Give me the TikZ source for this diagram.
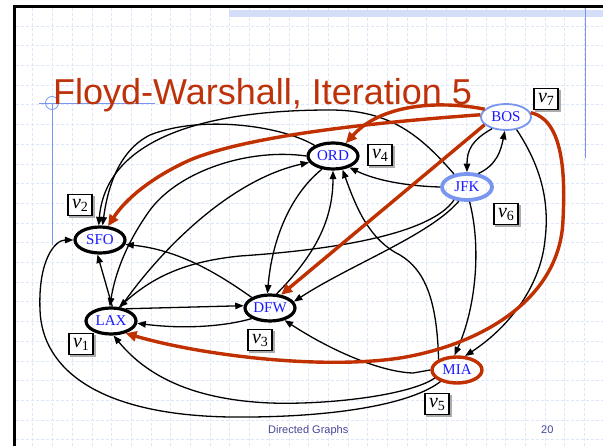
\documentclass[tikz,border=0pt]{standalone}
\usepackage{fontspec}
\setmainfont{Liberation Serif}
\newfontfamily\titlefont{Liberation Sans}
\usetikzlibrary{arrows.meta,shapes.geometric}

\definecolor{titlered}{RGB}{190,50,10}
\definecolor{edgered}{RGB}{192,48,0}
\definecolor{citytext}{RGB}{25,25,255}
\definecolor{lightblue}{RGB}{120,150,240}
\definecolor{gridblue}{RGB}{222,230,250}
\definecolor{barblue}{RGB}{212,222,248}
\definecolor{footblue}{RGB}{70,70,150}

\begin{document}
\begin{tikzpicture}[x=1pt,y=-1pt,
  city/.style={ellipse, minimum width=50pt, minimum height=26pt, inner sep=0pt,
    line width=3.2pt, font=\fontsize{15}{15}\selectfont, text=citytext},
  vbox/.style={draw, fill=white, line width=1.1pt, minimum width=24pt,
    minimum height=21pt, inner sep=0pt, font=\fontsize{20}{20}\selectfont,
    preaction={fill=gray!65, draw=gray!65, transform canvas={xshift=2pt,yshift=-2pt}}},
  blkarc/.style={line width=1.3pt, -{Triangle[length=8.5pt,width=6.5pt]}},
  redarc/.style={line width=3.4pt, draw=edgered, -{Triangle[length=11pt,width=10pt]}},
  gridline/.style={gridblue, line width=0.6pt, dash pattern=on 3pt off 2pt}
]
\useasboundingbox (0,0) rectangle (603,446);
\fill[white] (0,0) rectangle (603,446);

% slide grid
\foreach \i in {0,...,29} {\draw[gridline] ({32.7+19.7*\i},8) -- ({32.7+19.7*\i},446);}
\foreach \j in {0,...,21} {\draw[gridline] (16,{26+19.7*\j}) -- (603,{26+19.7*\j});}

% slide decorations
\fill[barblue] (229,10) rectangle (603,17);
\draw[lightblue, line width=1pt] (585,7) -- (585,158);
\draw[line width=2.6pt] (14.5,446) -- (14.5,6.5) -- (603,6.5);
\draw[lightblue, line width=0.8pt] (39,103) -- (155,103);
\draw[lightblue, line width=0.8pt] (52,103) -- (52,245);
\draw[lightblue, line width=0.8pt] (52,103) circle (6.5);

% title and footer
\node[anchor=base west, inner sep=0pt, text=titlered,
  font=\titlefont\fontsize{36}{36}\selectfont] (title) at (53,105) {Floyd-Warshall, Iteration 5};
\node[anchor=base west, inner sep=0pt, text=footblue,
  font=\titlefont\fontsize{11}{11}\selectfont] (foot) at (268,434) {Directed Graphs};
\node[anchor=base west, inner sep=0pt, text=footblue,
  font=\titlefont\fontsize{11}{11}\selectfont] (page) at (541,434) {20};

% airports
\node[city, draw=lightblue, line width=1.8pt] (BOS) at (506,117) {BOS};
\node[city, draw=lightblue, line width=3.8pt] (JFK) at (467,187) {JFK};
\node[city, draw=black] (ORD) at (333,156) {ORD};
\node[city, draw=black] (SFO) at (100,240) {SFO};
\node[city, draw=black] (LAX) at (111,321) {LAX};
\node[city, draw=black] (DFW) at (270,308) {DFW};
\node[city, draw=edgered, line width=3.4pt] (MIA) at (457,370) {MIA};

% vertex labels
\node[vbox] (v7) at (546,99) {\textit{v}\raisebox{-3pt}{\fontsize{14}{14}\selectfont 7}};
\node[vbox] (v4) at (380,155) {\textit{v}\raisebox{-3pt}{\fontsize{14}{14}\selectfont 4}};
\node[vbox] (v6) at (506,214) {\textit{v}\raisebox{-3pt}{\fontsize{14}{14}\selectfont 6}};
\node[vbox] (v2) at (80,205) {\textit{v}\raisebox{-3pt}{\fontsize{14}{14}\selectfont 2}};
\node[vbox] (v1) at (81,344) {\textit{v}\raisebox{-3pt}{\fontsize{14}{14}\selectfont 1}};
\node[vbox] (v3) at (260,340) {\textit{v}\raisebox{-3pt}{\fontsize{14}{14}\selectfont 3}};
\node[vbox] (v5) at (437,404) {\textit{v}\raisebox{-3pt}{\fontsize{14}{14}\selectfont 5}};

% black edges
\draw[blkarc] (BOS.220) .. controls (472,140) and (467,150) .. (JFK.north);
\draw[blkarc] (JFK.50) .. controls (497,165) and (501,150) .. (BOS.-95);
\draw[blkarc] (BOS.-50) .. controls (540,165) and (550,200) .. (545,240)
  .. controls (540,290) and (505,330) .. (MIA.60);
\draw[blkarc] (JFK.-80) .. controls (482,250) and (475,310) .. (MIA.100);
\draw[blkarc] (JFK.west) .. controls (405,186) and (375,180) .. (ORD.-35);
\draw[blkarc] (JFK.-120) .. controls (430,235) and (350,265) .. (DFW.15);
\draw[blkarc] (JFK.-135) .. controls (430,235) and (330,250) .. (240,256)
  .. controls (180,262) and (150,280) .. (LAX.60);
\draw[blkarc] (JFK.135) .. controls (420,135) and (390,110) .. (330,110)
  .. controls (180,110) and (105,150) .. (SFO.95);
\draw[blkarc] (MIA.150) .. controls (437,300) and (425,270) .. (400,255)
  .. controls (370,240) and (357,210) .. (ORD.-55);
\draw[blkarc] (MIA.west) -- (413,373) .. controls (380,372) and (330,350) .. (DFW.-40);
\draw[blkarc] (MIA.-160) .. controls (410,395) and (330,405) .. (270,403)
  .. controls (200,400) and (150,380) .. (LAX.-80);
\draw[blkarc] (MIA.-145) .. controls (410,405) and (330,418) .. (230,417)
  .. controls (100,415) and (42,370) .. (40,310)
  .. controls (38,260) and (55,240) .. (SFO.west);
\draw[blkarc] (ORD.-130) .. controls (290,195) and (272,240) .. (DFW.100);
\draw[blkarc] (DFW.65) .. controls (315,255) and (333,220) .. (ORD.-90);
\draw[blkarc] (ORD.150) .. controls (280,125) and (200,115) .. (150,135)
  .. controls (120,150) and (108,185) .. (SFO.80);
\draw[blkarc] (ORD.180) .. controls (250,148) and (180,170) .. (150,210)
  .. controls (125,245) and (115,275) .. (LAX.95);
\draw[blkarc] (LAX.55) .. controls (160,250) and (230,180) .. (ORD.-165);
\draw[blkarc] (DFW.150) .. controls (220,275) and (180,250) .. (SFO.-10);
\draw[blkarc] (DFW.-150) .. controls (230,325) and (190,330) .. (LAX.-5);
\draw[blkarc] (LAX.40) -- (DFW.175);
\draw[blkarc] (LAX.85) -- (SFO.-100);

% edges added in this iteration
\draw[redarc] (BOS.160) .. controls (450,102) and (385,100) .. (ORD.45);
\draw[redarc] (BOS.175) .. controls (380,122) and (250,135) .. (190,160)
  .. controls (150,178) and (125,200) .. (SFO.60);
\draw[redarc] (BOS.200) -- (DFW.50);
\draw[redarc] (BOS.10) .. controls (565,120) and (565,180) .. (563,220)
  .. controls (560,300) and (480,345) .. (400,358)
  .. controls (320,370) and (200,355) .. (LAX.-40);
\end{tikzpicture}
\end{document}
